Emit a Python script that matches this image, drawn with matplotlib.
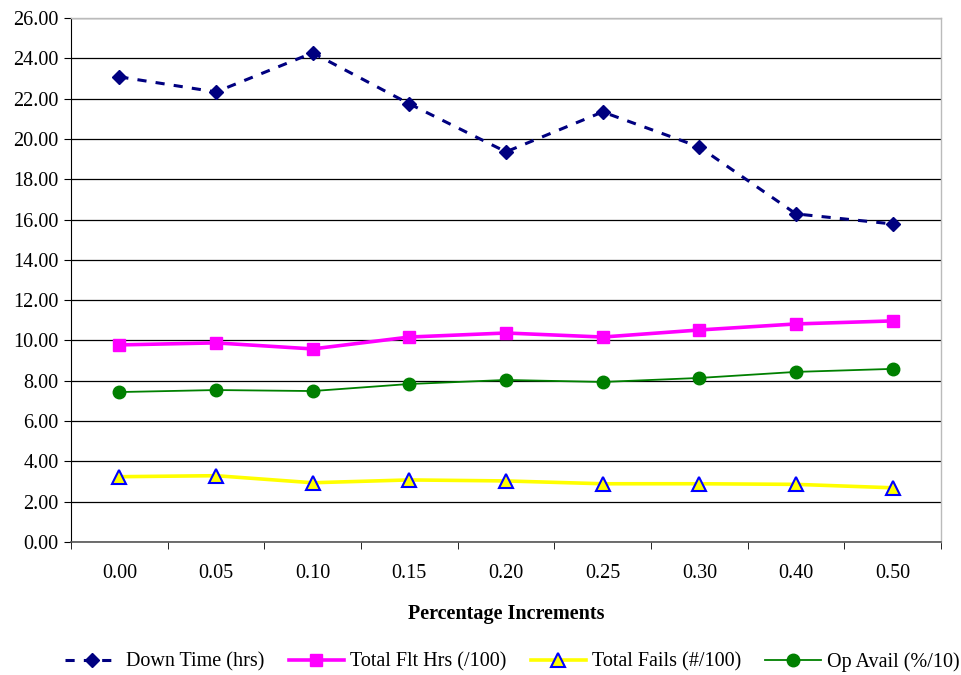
import matplotlib
matplotlib.use("Agg")
import matplotlib.pyplot as plt
import numpy as np

categories = ["0.00", "0.05", "0.10", "0.15", "0.20", "0.25", "0.30", "0.40", "0.50"]
down_time = [23.08, 22.33, 24.27, 21.74, 19.36, 21.34, 19.60, 16.28, 15.78]
flt_hrs = [9.78, 9.88, 9.58, 10.17, 10.37, 10.17, 10.52, 10.82, 10.97]
total_fails = [3.24, 3.29, 2.94, 3.08, 3.03, 2.89, 2.89, 2.86, 2.69]
op_avail = [7.44, 7.54, 7.49, 7.84, 8.04, 7.94, 8.14, 8.44, 8.59]
y_ticks = np.arange(0, 26.01, 2)

plt.rcParams['font.family'] = ['Liberation Serif', 'DejaVu Serif']
FS = 14.5

fig = plt.figure(figsize=(9.61, 6.75), dpi=100)
ax = fig.add_axes([71/961, 1-542/675, 870/961, 524/675])

x = np.arange(len(categories))
ax.plot(x, down_time, color='#000080', linestyle=(0, (3, 3)), linewidth=2.2,
        marker='D', markersize=7.5, markerfacecolor='#000080', markeredgecolor='#000080',
        label='Down Time (hrs)')
ax.plot(x, flt_hrs, color='#FF00FF', linewidth=2.6, marker='s', markersize=9,
        markerfacecolor='#FF00FF', markeredgecolor='#FF00FF', label='Total Flt Hrs (/100)')
ax.plot(x, total_fails, color='#FFFF00', linewidth=2.6, marker='^', markersize=10,
        markerfacecolor='#FFFF00', markeredgecolor='#0000FF', markeredgewidth=1.5,
        label='Total Fails (#/100)')
ax.plot(x, op_avail, color='#008000', linewidth=1.3, marker='o', markersize=9,
        markerfacecolor='#008000', markeredgecolor='#008000', label='Op Avail (%/10)')

ax.set_xlim(-0.5, len(categories) - 0.5)
ax.set_ylim(0, 26)
ax.set_yticks(y_ticks)
ax.set_yticklabels([f"{v:.2f}" for v in y_ticks], fontsize=FS)
ax.set_xticks(x)
ax.set_xticklabels(categories, fontsize=FS)
ax.set_xticks(np.arange(-0.5, len(categories), 1), minor=True)
ax.tick_params(axis='x', which='major', length=0, pad=16)
ax.tick_params(axis='x', which='minor', length=5, color='black', direction='out')
ax.tick_params(axis='y', length=5, color='black', direction='out', pad=4)

ax.yaxis.grid(True, color='black', linewidth=0.9)
ax.set_axisbelow(True)
for s in ['top', 'right']:
    ax.spines[s].set_color('#BBBBBB')
    ax.spines[s].set_linewidth(1.0)
ax.spines['left'].set_color('black')
ax.spines['bottom'].set_color('#555555')
ax.spines['bottom'].set_linewidth(1.2)

ax.set_xlabel('Percentage Increments', fontsize=FS, fontweight='bold', labelpad=15)

fig.legend(loc='center', bbox_to_anchor=(512/961, 1-662/675), ncol=4, frameon=False,
           fontsize=FS, handlelength=2.75, columnspacing=1.2, handletextpad=0.3)

fig.savefig('out.png', dpi=100)
